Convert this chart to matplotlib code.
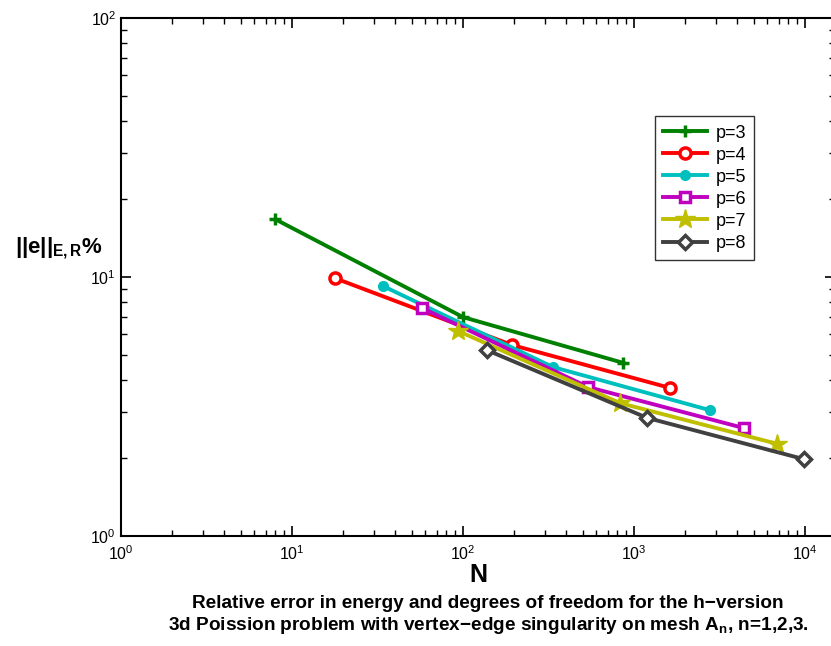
import matplotlib
matplotlib.use("Agg")
import matplotlib.pyplot as plt
from matplotlib.ticker import LogLocator, NullFormatter

# degrees of freedom N and relative energy error (%) per polynomial degree
labels = ["p=3", "p=4", "p=5", "p=6", "p=7", "p=8"]
dofs_p3 = [8, 100, 865]
err_p3 = [16.7, 7.0, 4.66]
dofs_p4 = [17.8, 194, 1625]
err_p4 = [9.9, 5.46, 3.73]
dofs_p5 = [34, 336, 2780]
err_p5 = [9.23, 4.49, 3.06]
dofs_p6 = [57.5, 538, 4400]
err_p6 = [7.59, 3.76, 2.61]
dofs_p7 = [93.5, 828, 6860]
err_p7 = [6.19, 3.26, 2.27]
dofs_p8 = [138, 1190, 9860]
err_p8 = [5.22, 2.86, 1.98]

series = [
    (dofs_p3, err_p3, "#008000", "+", dict(markersize=9, markeredgewidth=2.5)),
    (dofs_p4, err_p4, "#ff0000", "o", dict(markersize=8, markerfacecolor="white", markeredgewidth=2.5)),
    (dofs_p5, err_p5, "#00bfbf", "o", dict(markersize=7)),
    (dofs_p6, err_p6, "#bf00bf", "s", dict(markersize=7, markerfacecolor="white", markeredgewidth=2.5)),
    (dofs_p7, err_p7, "#bfbf00", "*", dict(markersize=15)),
    (dofs_p8, err_p8, "#404040", "D", dict(markersize=7, markerfacecolor="white", markeredgewidth=2.5)),
]

plt.rcParams["font.family"] = ["Liberation Sans", "DejaVu Sans"]
plt.rcParams["mathtext.fontset"] = "custom"
plt.rcParams["mathtext.rm"] = "Liberation Sans"
plt.rcParams["mathtext.it"] = "Liberation Sans:italic"
plt.rcParams["mathtext.bf"] = "Liberation Sans:bold"

fig = plt.figure(figsize=(8.31, 6.46), dpi=100)
ax = fig.add_axes([121 / 831, 1 - 536 / 646, 714 / 831, 518 / 646])

for (x, y, color, marker, style), label in zip(series, labels):
    ax.plot(x, y, color=color, marker=marker, linewidth=2.8, label=label, **style)

ax.set_xscale("log")
ax.set_yscale("log")
ax.set_xlim(1, 10 ** (714 / 171))
ax.set_ylim(1, 100)

for axis in (ax.xaxis, ax.yaxis):
    axis.set_major_locator(LogLocator(base=10, numticks=10))
    axis.set_minor_locator(LogLocator(base=10, subs=range(2, 10), numticks=20))
    axis.set_minor_formatter(NullFormatter())

ax.tick_params(which="both", direction="in", top=True, right=True, labelsize=11.5)
ax.tick_params(which="major", length=7, width=1.2)
ax.tick_params(which="minor", length=4, width=1.0)
ax.tick_params(axis="x", pad=6)
for spine in ax.spines.values():
    spine.set_linewidth(1.5)

ax.set_xlabel("N", fontsize=18, fontweight="bold", labelpad=0)
fig.text(0.018, 1 - 248 / 646, r"$\mathbf{||e||_{E,R}\%}$", fontsize=16,
         ha="left", va="center")

leg = ax.legend(loc="upper left", bbox_to_anchor=(0.748, 0.81), fontsize=13,
                frameon=True, fancybox=False, edgecolor="black",
                handlelength=2.4, borderpad=0.45, labelspacing=0.28,
                handletextpad=0.5, borderaxespad=0)
leg.get_frame().set_linewidth(1.0)

fig.text(488 / 831, 1 - 603 / 646,
         "Relative error in energy and degrees of freedom for the h\u2212version",
         ha="center", va="center", fontsize=13.7, fontweight="bold")
fig.text(488 / 831, 1 - 626 / 646,
         "3d Poission problem with vertex\u2212edge singularity on mesh A$_\\mathbf{n}$, n=1,2,3.",
         ha="center", va="center", fontsize=13.7, fontweight="bold")

fig.savefig("out.png", dpi=100)
